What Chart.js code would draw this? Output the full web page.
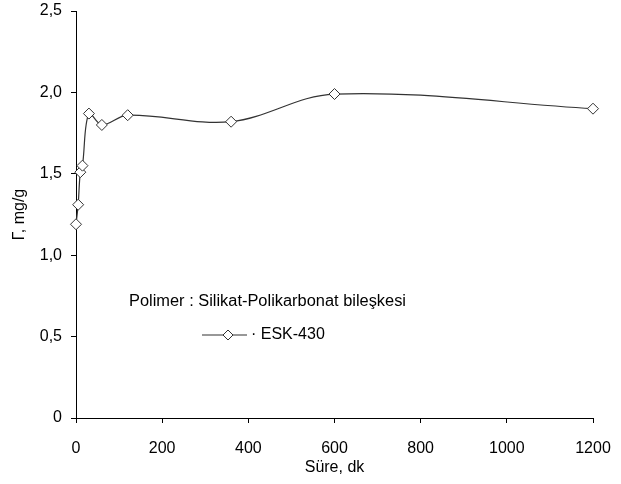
<!DOCTYPE html>
<html>
<head>
<meta charset="utf-8">
<script src="https://cdn.jsdelivr.net/npm/chart.js@4.4.1/dist/chart.umd.min.js"></script>
<style>
  html, body { margin: 0; padding: 0; background: #fff; }
  canvas { display: block; }
</style>
</head>
<body>
<canvas id="chart" width="621" height="484"></canvas>
<script>
// Süre (dk) ve Γ (mg/g) degerleri
const sure = [0, 5, 10, 15, 30, 60, 120, 360, 600, 1200];
const gamma = [1.19, 1.31, 1.51, 1.55, 1.87, 1.80, 1.86, 1.82, 1.99, 1.90];
const seriesName = "ESK-430";
const noteText = "Polimer : Silikat-Polikarbonat bileşkesi";

const xTicks = [0, 200, 400, 600, 800, 1000, 1200];
const xTickLabels = ["0", "200", "400", "600", "800", "1000", "1200"];
const yTicks = [0, 0.5, 1.0, 1.5, 2.0, 2.5];
const yTickLabels = ["0", "0,5", "1,0", "1,5", "2,0", "2,5"];

const FONT = "'Liberation Sans', Arial, sans-serif";
const lineColor = "#333333";

// yazi ve gosterge (chart icinde)
const notePlugin = {
    id: "notePlugin",
    afterDraw(chart) {
        const ctx = chart.ctx;
        ctx.save();
        ctx.fillStyle = "#000";
        ctx.font = "16px " + FONT;
        ctx.textBaseline = "middle";

        // not yazisi, referanstaki genislige yaklastir
        const w = ctx.measureText(noteText).width;
        ctx.save();
        ctx.translate(129, 302);
        ctx.scale(277 / w, 1);
        ctx.fillText(noteText, 0, 0);
        ctx.restore();

        // gosterge cizgisi + elmas
        const ly = 335;
        ctx.strokeStyle = lineColor;
        ctx.lineWidth = 1.2;
        ctx.beginPath();
        ctx.moveTo(202, ly);
        ctx.lineTo(247, ly);
        ctx.stroke();
        const r = 5;
        ctx.beginPath();
        ctx.moveTo(228 - r, ly);
        ctx.lineTo(228, ly - r);
        ctx.lineTo(228 + r, ly);
        ctx.lineTo(228, ly + r);
        ctx.closePath();
        ctx.fillStyle = "#fff";
        ctx.fill();
        ctx.lineWidth = 1;
        ctx.stroke();

        ctx.fillStyle = "#000";
        ctx.fillText("· " + chart.data.datasets[0].label, 251, ly);
        ctx.restore();
    }
};

const chart = new Chart(document.getElementById("chart"), {
    type: "line",
    data: {
        datasets: [
            {
                label: seriesName,
                data: sure.map((x, i) => ({ x: x, y: gamma[i] })),
                borderColor: lineColor,
                borderWidth: 1.2,
                tension: 0.35,
                fill: false,
                clip: false,
                pointStyle: "rectRot",
                pointRadius: 5.5,
                pointBorderWidth: 1,
                pointBorderColor: lineColor,
                pointBackgroundColor: "#ffffff"
            }
        ]
    },
    plugins: [notePlugin],
    options: {
        responsive: false,
        animation: false,
        layout: { padding: { left: 10, top: 11, right: 28, bottom: 7 } },
        plugins: {
            legend: { display: false },
            tooltip: { enabled: false }
        },
        scales: {
            x: {
                type: "linear",
                min: 0,
                max: 1200,
                afterFit(scale) {
                    scale.height = 59;
                    scale.paddingLeft = 0;
                    scale.paddingRight = 0;
                },
                afterBuildTicks(scale) { scale.ticks = xTicks.map(v => ({ value: v })); },
                grid: { drawOnChartArea: false, drawTicks: true, tickLength: 5, tickColor: "#000" },
                border: { color: "#000", width: 1 },
                ticks: {
                    color: "#000",
                    padding: 16,
                    maxRotation: 0,
                    font: { family: FONT, size: 16 },
                    callback: (v, i) => xTickLabels[i]
                },
                title: {
                    display: true,
                    text: "Süre, dk",
                    color: "#000",
                    padding: 0,
                    font: { family: FONT, size: 16 }
                }
            },
            y: {
                min: 0,
                max: 2.5,
                afterFit(scale) {
                    scale.width = 66;
                    scale.paddingTop = 0;
                    scale.paddingBottom = 0;
                },
                afterBuildTicks(scale) { scale.ticks = yTicks.map(v => ({ value: v })); },
                grid: { drawOnChartArea: false, drawTicks: true, tickLength: 5, tickColor: "#000" },
                border: { color: "#000", width: 1 },
                ticks: {
                    color: "#000",
                    padding: 9,
                    font: { family: FONT, size: 16 },
                    callback: (v, i) => yTickLabels[i]
                },
                title: {
                    display: true,
                    text: "Γ, mg/g",
                    color: "#000",
                    padding: 0,
                    font: { family: FONT, size: 16 }
                }
            }
        }
    }
});
</script>
</body>
</html>
